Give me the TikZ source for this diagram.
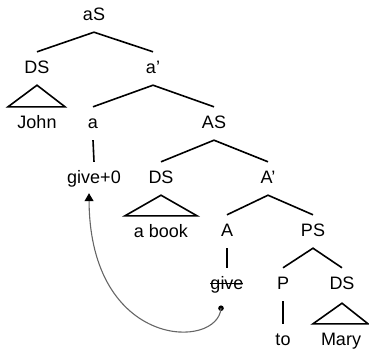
\documentclass[tikz,border=0pt]{standalone}
\usepackage{fontspec}
\setmainfont{Liberation Sans}
\usetikzlibrary{calc,arrows.meta}
\begin{document}
\begin{tikzpicture}[x=1pt,y=-1pt,
  lbl/.style={anchor=base,font=\fontsize{18}{20}\selectfont,text height=13pt,text depth=4pt,inner xsep=1pt,inner ysep=8pt},
  br/.style={line width=1.6pt,line join=miter},
  mv/.style={draw=black!60,line width=1.1pt}]
\useasboundingbox (0,0) rectangle (369,351);
% row baselines: 20, 73, 128, 183, 236, 289, 345
\node[lbl] (aS) at (94,20) {aS};
\node[lbl] (ds1) at (37,73) {DS};
\node[lbl] (a1) at (153,73) {a'};
\node[lbl] (john) at (37,128) {John};
\node[lbl] (a) at (93,128) {a};
\node[lbl] (AS) at (214,128) {AS};
\node[lbl] (give0) at (94,183) {give+0};
\node[lbl] (ds2) at (161,183) {DS};
\node[lbl] (A1) at (268,183) {A'};
\node[lbl] (book) at (161,237) {a book};
\node[lbl] (A) at (227,236) {A};
\node[lbl] (PS) at (313,236) {PS};
\node[lbl] (give) at (227,289) {give};
\node[lbl] (P) at (283,289) {P};
\node[lbl] (ds3) at (342,289) {DS};
\node[lbl] (to) at (283,345) {to};
\node[lbl] (mary) at (341,345) {Mary};
% branches
\draw[br] (ds1.north) -- (aS.south) -- (a1.north);
\draw[br] (a.north) -- (a1.south) -- (AS.north);
\draw[br] (ds2.north) -- (AS.south) -- (A1.north);
\draw[br] (A.north) -- (A1.south) -- (PS.north);
\draw[br] (P.north) -- (PS.south) -- (ds3.north);
\draw[br] (a.south) -- (give0.north);
\draw[br] (A.south) -- (give.north);
\draw[br] (P.south) -- (to.north);
% triangles
\draw[br] (ds1.south) -- ($(john.north)+(-29,0)$) -- ($(john.north)+(28,0)$) -- cycle;
\draw[br] (ds2.south) -- ($(book.north)+(-36,0)$) -- ($(book.north)+(36,0)$) -- cycle;
\draw[br] ($(ds3.south)+(0,2)$) -- ($(mary.north)+(-28,0)$) -- ($(mary.north)+(27,0)$) -- cycle;
% strike-through
\draw[line width=1pt] ($(give.base)+(-17,-6)$) -- ($(give.base)+(16,-6)$);
% movement arrow
\coordinate (src) at ($(give.south)+(-6,7)$);
\coordinate (dst) at ($(give0.south)+(-5,-2)$);
\fill (src) circle (2.8);
\draw[mv,-{Triangle[length=8pt,width=9pt,fill=black,color=black]}] (src) .. controls (218,350) and (90,350) .. (dst);
\end{tikzpicture}
\end{document}
